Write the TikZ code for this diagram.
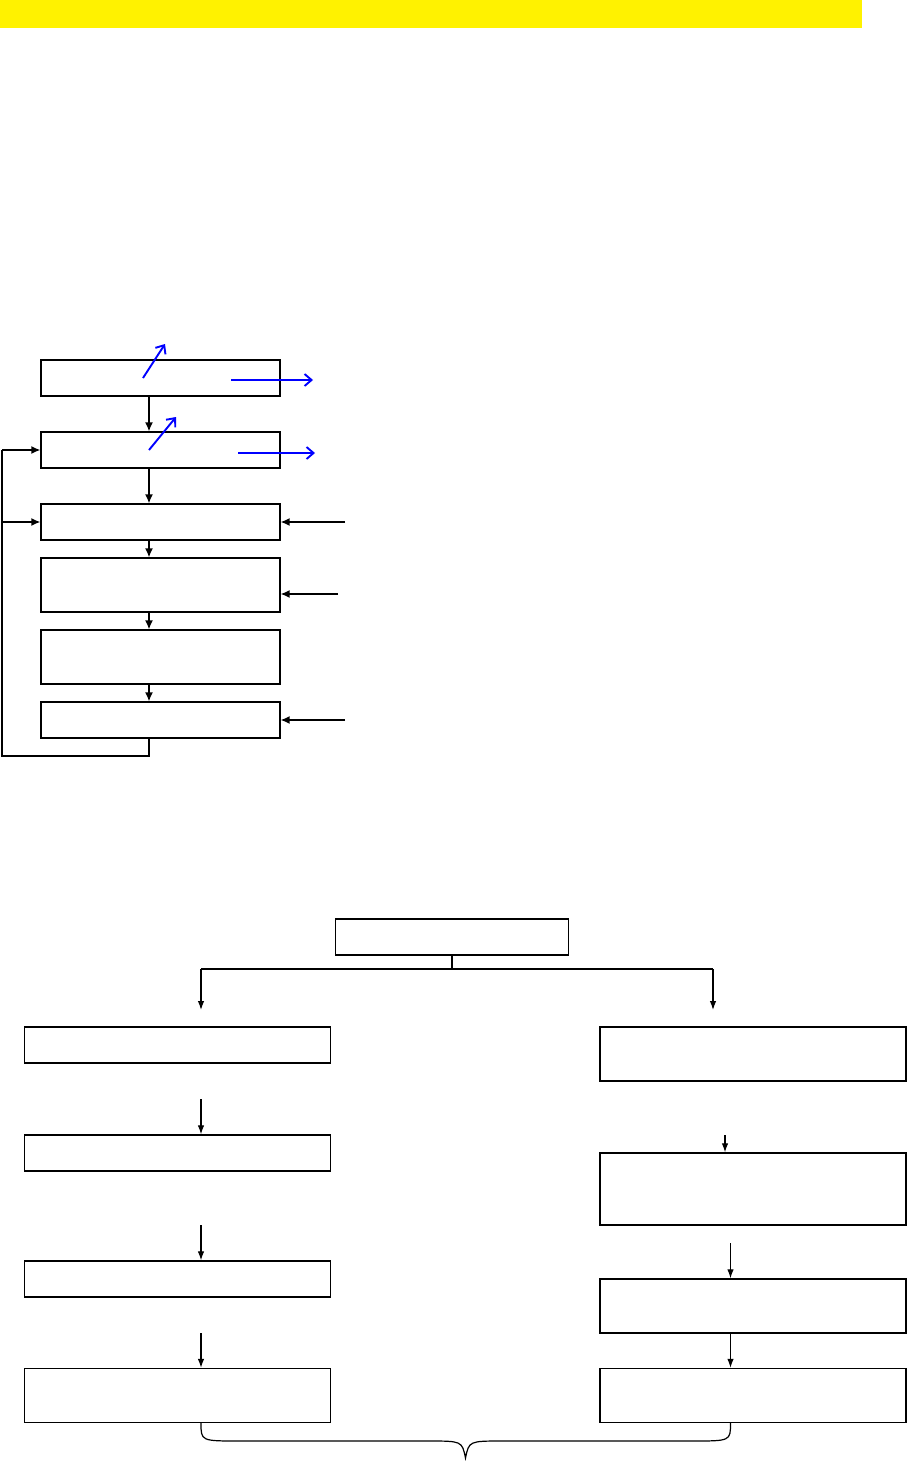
\documentclass[tikz,border=0pt]{standalone}
\usetikzlibrary{arrows.meta,calc}
\begin{document}
\begin{tikzpicture}[x=1pt,y=-1pt,
  box/.style={draw=black,line width=1.3pt,rectangle,inner sep=0pt},
  topbox/.style={box,minimum width=239pt},
  lbox/.style={box,minimum width=306.5pt},
  rbox/.style={box,minimum width=306pt},
  arr/.style={draw=black,line width=1.4pt,-{Latex[length=9pt,width=8pt]}},
  thinarr/.style={draw=black,line width=1.2pt,-{Latex[length=9pt,width=6.5pt]}},
  bluearr/.style={draw=blue,line width=1.9pt,-{Straight Barb[length=7pt,width=12pt]}},
  conn/.style={draw=black,line width=1.2pt}]
\useasboundingbox (0,0) rectangle (907,1461);
\fill[yellow] (0,0) rectangle (862,28);
% upper chain
\node[topbox,minimum height=36pt] (b1) at (160.5,378) {};
\node[topbox,minimum height=36pt] (b2) at (160.5,450) {};
\node[topbox,minimum height=36pt] (b3) at (160.5,522) {};
\node[topbox,minimum height=54pt] (b4) at (160.5,585) {};
\node[topbox,minimum height=54pt] (b5) at (160.5,657) {};
\node[topbox,minimum height=36pt] (b6) at (160.5,720) {};
\coordinate (xa) at (149,0);
\draw[arr] (b1.south -| xa) -- (b2.north -| xa);
\draw[arr] (b2.south -| xa) -- (b3.north -| xa);
\draw[arr] (b3.south -| xa) -- (b4.north -| xa);
\draw[arr] (b4.south -| xa) -- (b5.north -| xa);
\draw[arr] (b5.south -| xa) -- (b6.north -| xa);
% feedback loop
\coordinate (fb) at (2,756);
\draw[conn] (b6.south -| xa) |- (fb) -- (fb |- b2.west);
\draw[arr] (fb |- b2.west) -- (b2.west);
\draw[arr] (fb |- b3.west) -- (b3.west);
% right inputs
\coordinate (in3) at (345,522);
\coordinate (in4) at (338,594);
\coordinate (in6) at (345,720);
\draw[arr] (in3) -- (in3 -| b3.east);
\draw[arr] (in4) -- (in4 -| b4.east);
\draw[arr] (in6) -- (in6 -| b6.east);
% blue arrows
\coordinate (d1s) at (143,378); \coordinate (d1e) at (165,344);
\coordinate (h1s) at (231,380); \coordinate (h1e) at (313,380);
\coordinate (d2s) at (149,450); \coordinate (d2e) at (176,417);
\coordinate (h2s) at (238,453); \coordinate (h2e) at (315,453);
\draw[bluearr] (d1s) -- (d1e);
\draw[bluearr] (h1s) -- (h1e);
\draw[bluearr] (d2s) -- (d2e);
\draw[bluearr] (h2s) -- (h2e);
% lower tree
\node[box,minimum width=233pt,minimum height=36pt] (t) at (452,937) {};
\node[lbox,minimum height=36pt] (l1) at (177.5,1045) {};
\node[lbox,minimum height=36pt] (l2) at (177.5,1153) {};
\node[lbox,minimum height=36pt] (l3) at (177.5,1279) {};
\node[lbox,minimum height=54pt] (l4) at (177.5,1395.5) {};
\node[rbox,minimum height=54pt] (r1) at (753,1054) {};
\node[rbox,minimum height=72pt] (r2) at (753,1189) {};
\node[rbox,minimum height=54pt] (r3) at (753,1306) {};
\node[rbox,minimum height=54pt] (r4) at (753,1395.5) {};
\coordinate (split) at (452,969);
\coordinate (lx) at (201,0);
\coordinate (rx) at (713,0);
\coordinate (la) at (201,1010);
\coordinate (ra) at (713,1010);
\draw[conn] (t.south) -- (split);
\draw[conn] (split -| lx) -- (split -| rx);
\draw[thinarr] (split -| lx) -- (la);
\draw[thinarr] (split -| rx) -- (ra);
\coordinate (a2) at (201,1099);
\coordinate (a3) at (201,1225);
\coordinate (a4) at (201,1333);
\draw[thinarr] (a2) -- (a2 |- l2.north);
\draw[thinarr] (a3) -- (a3 |- l3.north);
\draw[thinarr] (a4) -- (a4 |- l4.north);
\coordinate (c2) at (725,1135);
\coordinate (c3) at (730.5,1243);
\coordinate (xr) at (730.5,0);
\draw[thinarr] (c2) -- (c2 |- r2.north);
\draw[thinarr] (c3) -- (c3 |- r3.north);
\draw[thinarr] (r3.south -| xr) -- (r4.north -| xr);
% brace
\coordinate (bl) at (l4.south -| lx);
\coordinate (br) at (r4.south -| xr);
\coordinate (tip) at (465.5,1458);
\draw[conn] (bl) .. controls (201,1441) .. (240,1441) -- (428,1441)
  .. controls (462,1441) .. (tip) .. controls (469,1441) .. (503,1441)
  -- (692,1441) .. controls (730.5,1441) .. (br);
\end{tikzpicture}
\end{document}
